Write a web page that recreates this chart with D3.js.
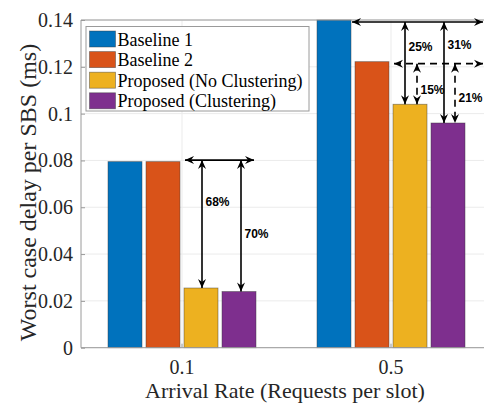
<!DOCTYPE html>
<html>
<head>
<meta charset="utf-8">
<script src="https://cdn.jsdelivr.net/npm/d3@7/dist/d3.min.js"></script>
<style>
  html, body { margin: 0; padding: 0; background: #fff; }
  svg { display: block; }
</style>
</head>
<body>
<svg id="chart" width="484" height="408"></svg>
<script>
// Worst-case delay per SBS for two arrival rates
const categories = ["0.1", "0.5"];
const seriesNames = ["Baseline 1", "Baseline 2", "Proposed (No Clustering)", "Proposed (Clustering)"];
const baseline1 = [0.0795, 0.1400];
const baseline2 = [0.0795, 0.1222];
const proposedNoClustering = [0.0255, 0.1040];
const proposedClustering = [0.0240, 0.0960];
const yTicks = [0, 0.02, 0.04, 0.06, 0.08, 0.1, 0.12, 0.14];
const yTickLabels = ["0", "0.02", "0.04", "0.06", "0.08", "0.1", "0.12", "0.14"];
const colors = ["#0072BD", "#D95319", "#EDB120", "#7E2F8E"];

// Reduction annotations: group, reference series, target series, label
const reductions = [
  { group: 0, from: 0, to: 2, label: "68%", dashed: false },
  { group: 0, from: 0, to: 3, label: "70%", dashed: false },
  { group: 1, from: 0, to: 2, label: "25%", dashed: false },
  { group: 1, from: 0, to: 3, label: "31%", dashed: false },
  { group: 1, from: 1, to: 2, label: "15%", dashed: true },
  { group: 1, from: 1, to: 3, label: "21%", dashed: true }
];

const seriesValues = [baseline1, baseline2, proposedNoClustering, proposedClustering];

const svg = d3.select("#chart");
const W = 484, H = 408;
const frame = { left: 81, top: 20, bottom: 347.7, right: 520 };

const x = d3.scaleBand().domain(categories).range([77.5, 495.5]).padding(0);
const xInner = d3.scaleBand().domain(d3.range(seriesNames.length))
  .range([-76, 76]).paddingInner(0.105).paddingOuter(0.0525);
const y = d3.scaleLinear().domain([0, 0.14]).range([frame.bottom, frame.top]);

const serif = "'Liberation Serif', 'Times New Roman', serif";
const sans = "'Liberation Sans', Arial, sans-serif";

// Grid
const grid = svg.append("g");
grid.selectAll("line.h").data(yTicks).enter().append("line")
  .attr("x1", frame.left).attr("x2", W)
  .attr("y1", d => y(d)).attr("y2", d => y(d))
  .attr("stroke", "#ebebeb").attr("stroke-width", 1);
grid.selectAll("line.v").data(categories).enter().append("line")
  .attr("x1", d => x(d) + x.bandwidth() / 2).attr("x2", d => x(d) + x.bandwidth() / 2)
  .attr("y1", frame.top).attr("y2", frame.bottom)
  .attr("stroke", "#ebebeb").attr("stroke-width", 1);

// Bars
const barData = [];
categories.forEach((c, gi) => {
  seriesValues.forEach((vals, si) => barData.push({ c, si, v: vals[gi] }));
});
const cx = (c) => x(c) + x.bandwidth() / 2;
svg.append("g").selectAll("rect").data(barData).enter().append("rect")
  .attr("x", d => cx(d.c) + xInner(d.si))
  .attr("width", xInner.bandwidth())
  .attr("y", d => y(d.v))
  .attr("height", d => y(0) - y(d.v))
  .attr("fill", d => colors[d.si])
  .attr("stroke", "#3a3a3a").attr("stroke-opacity", 0.55).attr("stroke-width", 0.8);

// Axes frame
const axisColor = "#9a9a9a";
svg.append("line").attr("x1", frame.left).attr("x2", W).attr("y1", frame.bottom).attr("y2", frame.bottom)
  .attr("stroke", axisColor).attr("stroke-width", 1);
svg.append("line").attr("x1", frame.left).attr("x2", W).attr("y1", frame.top).attr("y2", frame.top)
  .attr("stroke", axisColor).attr("stroke-width", 1);
svg.append("line").attr("x1", frame.left).attr("x2", frame.left).attr("y1", frame.top).attr("y2", frame.bottom)
  .attr("stroke", axisColor).attr("stroke-width", 1);

// Y axis ticks and labels
const yAxis = d3.axisLeft(y).tickValues(yTicks).tickFormat((d, i) => yTickLabels[i]).tickSize(-4).tickPadding(8);
const gy = svg.append("g").attr("transform", `translate(${frame.left},0)`).call(yAxis);
gy.select(".domain").remove();
gy.selectAll(".tick line").attr("stroke", axisColor);
gy.selectAll(".tick text").attr("font-family", serif).attr("font-size", 20).attr("fill", "#262626");

// X axis ticks and labels
const xAxis = d3.axisBottom(x).tickSize(-4).tickPadding(12);
const gx = svg.append("g").attr("transform", `translate(0,${frame.bottom})`).call(xAxis);
gx.select(".domain").remove();
gx.selectAll(".tick line").attr("stroke", axisColor);
gx.selectAll(".tick text").attr("font-family", serif).attr("font-size", 20).attr("fill", "#262626");

// Axis titles
svg.append("text").attr("x", 285).attr("y", 398).attr("text-anchor", "middle")
  .attr("font-family", serif).attr("font-size", 22).attr("fill", "#262626")
  .text("Arrival Rate (Requests per slot)");
svg.append("text").attr("transform", "translate(36,192.5) rotate(-90)").attr("text-anchor", "middle")
  .attr("font-family", serif).attr("font-size", 24).attr("fill", "#262626")
  .text("Worst case delay per SBS (ms)");

// Arrow markers
const defs = svg.append("defs");
defs.append("marker").attr("id", "head").attr("viewBox", "-10 -5 12 10")
  .attr("refX", 0).attr("refY", 0).attr("markerWidth", 12).attr("markerHeight", 10)
  .attr("markerUnits", "userSpaceOnUse").attr("orient", "auto-start-reverse")
  .append("path").attr("d", "M0,0 L-9,-4 L-6,0 L-9,4 Z").attr("fill", "#000");

// Annotation layout: where each horizontal reference line starts/ends and
// where each vertical arrow and its label sit
const refLines = [
  { group: 0, from: 0, startAfter: 1, endAt: 3, dy: -1.5, dashed: false },
  { group: 1, from: 0, startAfter: 0, endAt: null, dy: 2, dashed: false },
  { group: 1, from: 1, startAfter: 1, endAt: null, dy: 2, dashed: true }
];
const arrowLayout = [
  { dx: 1, labelFrac: 0.33 },
  { dx: 2, labelFrac: 0.56 },
  { dx: -5, labelFrac: 0.3 },
  { dx: -4, labelFrac: 0.23 },
  { dx: 7, labelFrac: 0.64 },
  { dx: 7, labelFrac: 0.58 }
];

const ann = svg.append("g");
refLines.forEach(r => {
  const c = categories[r.group];
  const ry = y(seriesValues[r.from][r.group]) + r.dy;
  const x1 = cx(c) + xInner(r.startAfter) + xInner.bandwidth() + (r.startAfter === 0 && r.group === 1 ? 1 : 5);
  const x2 = r.endAt === null ? W - 1 : cx(c) + xInner(r.endAt) + xInner.bandwidth() - 2;
  ann.append("line").attr("x1", x1).attr("x2", x2).attr("y1", ry).attr("y2", ry)
    .attr("stroke", "#000").attr("stroke-width", 1.6)
    .attr("stroke-dasharray", r.dashed ? "7,5" : null)
    .attr("marker-start", "url(#head)").attr("marker-end", "url(#head)");
});

reductions.forEach((r, i) => {
  const c = categories[r.group];
  const lay = arrowLayout[i];
  const ax = cx(c) + xInner(r.to) + xInner.bandwidth() / 2 + lay.dx;
  const y1 = y(seriesValues[r.from][r.group]) + (r.group === 0 ? -1.5 : 2);
  const y2 = y(seriesValues[r.to][r.group]);
  ann.append("line").attr("x1", ax).attr("x2", ax).attr("y1", y1).attr("y2", y2)
    .attr("stroke", "#000").attr("stroke-width", 1.6)
    .attr("stroke-dasharray", r.dashed ? "7,5" : null)
    .attr("marker-start", "url(#head)").attr("marker-end", "url(#head)");
  ann.append("text").attr("x", ax + 3.5).attr("y", y1 + (y2 - y1) * lay.labelFrac)
    .attr("dominant-baseline", "central")
    .attr("font-family", sans).attr("font-weight", "bold").attr("font-size", 12).attr("fill", "#000")
    .text(r.label);
});

// Legend
const lg = svg.append("g");
lg.append("rect").attr("x", 86).attr("y", 26.5).attr("width", 223).attr("height", 84.5)
  .attr("fill", "#fff").attr("stroke", axisColor).attr("stroke-width", 1);
seriesNames.forEach((name, i) => {
  const ry = 31 + i * 20.6;
  lg.append("rect").attr("x", 89.5).attr("y", ry).attr("width", 26).attr("height", 16)
    .attr("fill", colors[i]).attr("stroke", "#3a3a3a").attr("stroke-opacity", 0.55).attr("stroke-width", 0.8);
  lg.append("text").attr("x", 117.5).attr("y", ry + 14.5)
    .attr("font-family", serif).attr("font-size", 18).attr("fill", "#000").text(name);
});
</script>
</body>
</html>
